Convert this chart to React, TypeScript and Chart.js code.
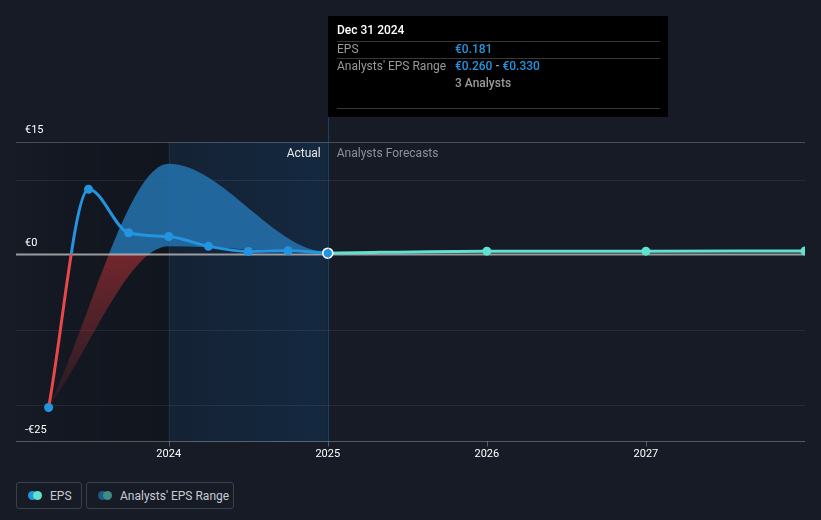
import React, { useEffect, useRef } from 'react';
import { Chart, registerables } from 'chart.js';

Chart.register(...registerables);

// ---- data ----
const actualDates = [2023.245, 2023.496, 2023.748, 2024.0, 2024.25, 2024.5, 2024.75, 2025.0];
const actualEps = [-20.4, 8.7, 2.9, 2.4, 1.1, 0.4, 0.5, 0.181];

const forecastDates = [2025.0, 2026.0, 2027.0, 2028.0];
const forecastEps = [0.181, 0.45, 0.45, 0.47];

const rangeDates = [2023.245, 2024.0, 2025.0, 2026.0, 2027.0, 2028.0];
const rangeLow = [-20.4, 1.1, 0.26, 0.36, 0.38, 0.4];
const rangeHigh = [-20.4, 12.1, 0.33, 0.55, 0.52, 0.54];

const xTickValues = [2024, 2025, 2026, 2027];
const xTickLabels = ['2024', '2025', '2026', '2027'];
const yLabelValues = [15, 0, -25];
const yLabelTexts = ['€15', '€0', '-€25'];
const yGridValues = [10, -10, -20];

const X_MIN = 2023.04;
const X_MAX = 2028.0;
const Y_MIN = -25;
const Y_MAX = 15;
const PAST_SHADE_START = 2024.0;
const NOW_DATE = 2025.0;

const tooltipTitle = 'Dec 31 2024';
const tooltipEps = '€0.181';
const tooltipRangeLow = '€0.260';
const tooltipRangeHigh = '€0.330';
const tooltipAnalysts = '3 Analysts';

// ---- styles ----
const BG = '#161b26';
const BLUE = '#2394df';
const RED = '#e84848';
const TEAL = '#5fe3cf';
const FONT = 'Roboto, "Noto Sans", sans-serif';

function zeroSplitGradient(chart: any, above: string, belowTop: string, belowBottom: string) {
  const { ctx, chartArea, scales } = chart;
  if (!chartArea) return above;
  const y0 = scales.y.getPixelForValue(0);
  const h = chartArea.bottom - chartArea.top;
  const f = Math.min(1, Math.max(0, (y0 - chartArea.top) / h));
  const g = ctx.createLinearGradient(0, chartArea.top, 0, chartArea.bottom);
  g.addColorStop(0, above);
  g.addColorStop(f, above);
  g.addColorStop(f, belowTop);
  g.addColorStop(1, belowBottom);
  return g;
}

const decorPlugin = {
  id: 'decor',
  beforeDatasetsDraw(chart: any) {
    const { ctx, chartArea: a, scales } = chart;
    const x = scales.x;
    const y = scales.y;
    const xs = x.getPixelForValue(PAST_SHADE_START);
    const xn = x.getPixelForValue(NOW_DATE);
    ctx.save();
    // dark past area
    let g = ctx.createLinearGradient(a.left, 0, xs, 0);
    g.addColorStop(0, 'rgba(0,0,0,0)');
    g.addColorStop(0.35, 'rgba(0,0,0,0.12)');
    g.addColorStop(1, 'rgba(0,0,0,0.2)');
    ctx.fillStyle = g;
    ctx.fillRect(a.left, a.top, xs - a.left, a.bottom - a.top);
    // blue recent-past area
    g = ctx.createLinearGradient(xs, 0, xn, 0);
    g.addColorStop(0, 'rgba(15,80,140,0.14)');
    g.addColorStop(1, 'rgba(15,80,140,0.26)');
    ctx.fillStyle = g;
    ctx.fillRect(xs, a.top, xn - xs, a.bottom - a.top);
    // vertical line at shade start
    ctx.strokeStyle = 'rgba(30,100,160,0.22)';
    ctx.lineWidth = 1;
    ctx.beginPath();
    ctx.moveTo(Math.round(xs) + 0.5, a.top);
    ctx.lineTo(Math.round(xs) + 0.5, a.bottom);
    ctx.stroke();
    // grid lines
    ctx.strokeStyle = 'rgba(255,255,255,0.07)';
    yGridValues.forEach((v) => {
      const py = Math.round(y.getPixelForValue(v)) + 0.5;
      ctx.beginPath();
      ctx.moveTo(a.left, py);
      ctx.lineTo(a.right, py);
      ctx.stroke();
    });
    // top line
    ctx.strokeStyle = 'rgba(255,255,255,0.22)';
    let py = Math.round(y.getPixelForValue(Y_MAX)) + 0.5;
    ctx.beginPath();
    ctx.moveTo(a.left, py);
    ctx.lineTo(a.right, py);
    ctx.stroke();
    // bottom axis line
    ctx.strokeStyle = 'rgba(255,255,255,0.28)';
    py = Math.round(y.getPixelForValue(Y_MIN)) - 0.5;
    ctx.beginPath();
    ctx.moveTo(a.left, py);
    ctx.lineTo(a.right, py);
    ctx.stroke();
    xTickValues.forEach((v) => {
      const px = Math.round(x.getPixelForValue(v)) + 0.5;
      ctx.beginPath();
      ctx.moveTo(px, py);
      ctx.lineTo(px, py + 5);
      ctx.stroke();
    });
    ctx.restore();
  },
  afterDatasetDraw(chart: any, args: any) {
    if (args.index !== 2) return;
    const { ctx, chartArea: a, scales } = chart;
    const py = scales.y.getPixelForValue(0);
    ctx.save();
    ctx.strokeStyle = 'rgba(200,200,200,0.75)';
    ctx.lineWidth = 2;
    ctx.beginPath();
    ctx.moveTo(a.left, py);
    ctx.lineTo(a.right, py);
    ctx.stroke();
    ctx.restore();
  },
  afterDatasetsDraw(chart: any) {
    const { ctx, chartArea: a, scales } = chart;
    const x = scales.x;
    const y = scales.y;
    const xn = x.getPixelForValue(NOW_DATE);
    ctx.save();
    // y labels
    ctx.font = `11px ${FONT}`;
    ctx.fillStyle = '#ffffff';
    ctx.textAlign = 'left';
    ctx.textBaseline = 'middle';
    yLabelValues.forEach((v, i) => {
      ctx.fillText(yLabelTexts[i], a.left + 9, y.getPixelForValue(v) - 11.5);
    });
    // x labels
    ctx.textAlign = 'center';
    xTickValues.forEach((v, i) => {
      ctx.fillText(xTickLabels[i], x.getPixelForValue(v), a.bottom + 12);
    });
    // Actual / Analysts Forecasts
    ctx.font = `12px ${FONT}`;
    ctx.textAlign = 'right';
    ctx.fillStyle = '#e8e8e8';
    ctx.fillText('Actual', xn - 7, a.top + 12);
    ctx.textAlign = 'left';
    ctx.fillStyle = '#8c9099';
    ctx.fillText('Analysts Forecasts', xn + 9, a.top + 12);

    // now line
    const tTop = 16;
    const tH = 101;
    const tW = 340;
    ctx.strokeStyle = 'rgba(40,120,190,0.4)';
    ctx.lineWidth = 1;
    ctx.beginPath();
    ctx.moveTo(Math.round(xn) + 0.5, tTop + tH);
    ctx.lineTo(Math.round(xn) + 0.5, a.bottom);
    ctx.stroke();

    // tooltip box
    const tl = Math.round(xn);
    ctx.fillStyle = '#000000';
    ctx.fillRect(tl, tTop, tW, tH);
    const px = tl + 9;
    const vx = tl + 127;
    const lineR = tl + tW - 8;
    ctx.strokeStyle = 'rgba(255,255,255,0.22)';
    [41.5, 58.5, 108.5].forEach((ly) => {
      ctx.beginPath();
      ctx.moveTo(px, ly);
      ctx.lineTo(lineR, ly);
      ctx.stroke();
    });
    ctx.textBaseline = 'middle';
    ctx.textAlign = 'left';
    ctx.font = `500 12px ${FONT}`;
    ctx.fillStyle = '#ffffff';
    ctx.fillText(tooltipTitle, px, 31);
    ctx.font = `12px ${FONT}`;
    ctx.fillStyle = '#9a9a9a';
    ctx.fillText('EPS', px, 49.5);
    ctx.fillText("Analysts' EPS Range", px, 66.5);
    ctx.font = `500 12px ${FONT}`;
    ctx.fillStyle = BLUE;
    ctx.fillText(tooltipEps, vx, 49.5);
    ctx.fillText(tooltipRangeLow, vx, 66.5);
    const w = ctx.measureText(tooltipRangeLow).width;
    ctx.fillStyle = '#9a9a9a';
    ctx.fillText(' - ', vx + w, 66.5);
    const w2 = ctx.measureText(' - ').width;
    ctx.fillStyle = BLUE;
    ctx.fillText(tooltipRangeHigh, vx + w + w2, 66.5);
    ctx.fillStyle = '#9a9a9a';
    ctx.fillText(tooltipAnalysts, vx, 83.5);
    ctx.restore();
  },
};

export default function App() {
  const ref = useRef<HTMLCanvasElement | null>(null);
  useEffect(() => {
    document.body.style.margin = '0';
    document.body.style.background = BG;
    const canvas = ref.current!;
    const lastIdx = actualEps.length - 1;
    const chart = new Chart(canvas, {
      type: 'line',
      data: {
        datasets: [
          {
            label: 'EPS',
            data: actualDates.map((d, i) => ({ x: d, y: actualEps[i] })),
            borderColor: (c: any) => zeroSplitGradient(c.chart, BLUE, RED, RED),
            borderWidth: 3,
            cubicInterpolationMode: 'monotone',
            pointRadius: actualEps.map((_, i) => (i === lastIdx ? 5 : 4.5)),
            pointBackgroundColor: BLUE,
            pointBorderColor: actualEps.map((_, i) => (i === lastIdx ? '#ffffff' : BLUE)),
            pointBorderWidth: actualEps.map((_, i) => (i === lastIdx ? 1.5 : 0)),
            fill: false,
            order: 1,
          },
          {
            label: 'EPS forecast',
            data: forecastDates.map((d, i) => ({ x: d, y: forecastEps[i] })),
            borderColor: TEAL,
            borderWidth: 3,
            cubicInterpolationMode: 'monotone',
            pointRadius: forecastEps.map((_, i) => (i === 0 ? 0 : 4.5)),
            pointBackgroundColor: TEAL,
            pointBorderWidth: 0,
            fill: false,
            order: 2,
          },
          {
            label: "Analysts' EPS Range high",
            data: rangeDates.map((d, i) => ({ x: d, y: rangeHigh[i] })),
            borderWidth: 0,
            borderColor: 'rgba(0,0,0,0)',
            backgroundColor: (c: any) =>
              zeroSplitGradient(c.chart, 'rgba(36,115,175,0.85)', 'rgba(150,45,50,0.72)', 'rgba(150,45,50,0)'),
            cubicInterpolationMode: 'monotone',
            pointRadius: 0,
            fill: '+1',
            order: 3,
          },
          {
            label: "Analysts' EPS Range low",
            data: rangeDates.map((d, i) => ({ x: d, y: rangeLow[i] })),
            borderWidth: 0,
            borderColor: 'rgba(0,0,0,0)',
            cubicInterpolationMode: 'monotone',
            pointRadius: 0,
            fill: false,
            order: 4,
          },
        ],
      },
      options: {
        responsive: false,
        animation: false,
        devicePixelRatio: 1,
        layout: { padding: { left: 16, right: 16, top: 142, bottom: 28 } },
        scales: {
          x: { type: 'linear', min: X_MIN, max: X_MAX, display: false },
          y: { type: 'linear', min: Y_MIN, max: Y_MAX, display: false },
        },
        plugins: {
          legend: { display: false },
          tooltip: { enabled: false },
        },
        events: [],
      },
      plugins: [decorPlugin],
    } as any);
    return () => chart.destroy();
  }, []);

  const boxStyle: React.CSSProperties = {
    position: 'absolute',
    top: 482,
    height: 27,
    border: '1px solid #3a414d',
    borderRadius: 3,
    boxSizing: 'border-box',
    display: 'flex',
    alignItems: 'center',
    fontSize: 12,
    color: '#c8ccd2',
  };
  const dot = (color: string, left: number): React.CSSProperties => ({
    position: 'absolute',
    left,
    top: 8,
    width: 9,
    height: 9,
    borderRadius: '50%',
    background: color,
  });

  return (
    <div
      style={{
        position: 'relative',
        width: 821,
        height: 520,
        background: BG,
        fontFamily: FONT,
        overflow: 'hidden',
      }}
    >
      <canvas
        ref={ref}
        width={821}
        height={470}
        style={{ position: 'absolute', left: 0, top: 0, width: 821, height: 470 }}
      />
      <div style={{ ...boxStyle, left: 16, width: 66 }}>
        <span style={dot(BLUE, 11)} />
        <span style={dot(TEAL, 16)} />
        <span style={{ position: 'absolute', left: 33 }}>EPS</span>
      </div>
      <div style={{ ...boxStyle, left: 86, width: 148 }}>
        <span style={dot('#1f5a86', 11)} />
        <span style={dot('#3f8c86', 16)} />
        <span style={{ position: 'absolute', left: 33 }}>Analysts' EPS Range</span>
      </div>
    </div>
  );
}
